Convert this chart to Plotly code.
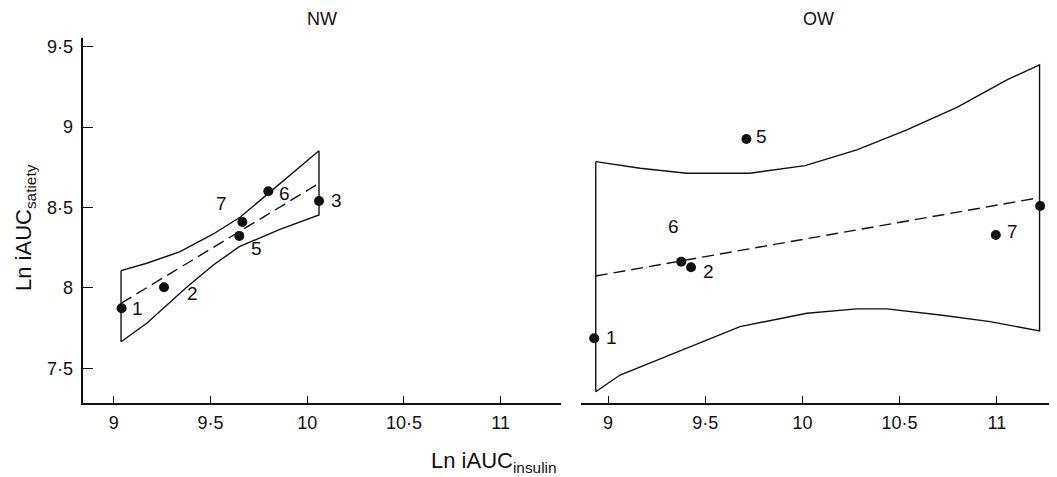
import plotly.graph_objects as go

# ---------------- data ----------------
nw_ids = ["1", "2", "5", "7", "6", "3"]
nw_x = [9.041, 9.26, 9.649, 9.665, 9.799, 10.061]
nw_y = [7.873, 8.004, 8.323, 8.410, 8.601, 8.540]

ow_ids = ["1", "6", "2", "5", "7", "4"]
ow_x = [8.929, 9.377, 9.427, 9.712, 10.995, 11.223]
ow_y = [7.687, 8.163, 8.128, 8.926, 8.329, 8.509]

# confidence band (upper / lower edges) and regression line
nw_up_x = [9.038, 9.171, 9.343, 9.515, 9.653, 9.799, 9.928, 10.061]
nw_up_y = [8.107, 8.153, 8.225, 8.335, 8.439, 8.588, 8.716, 8.853]
nw_lo_x = [9.038, 9.171, 9.377, 9.515, 9.649, 9.859, 10.061]
nw_lo_y = [7.665, 7.780, 8.004, 8.142, 8.256, 8.364, 8.453]
nw_fit_x = [9.038, 10.061]
nw_fit_y = [7.904, 8.650]

ow_up_x = [8.937, 9.165, 9.405, 9.731, 10.014, 10.280, 10.537, 10.795, 11.052, 11.220]
ow_up_y = [8.785, 8.744, 8.713, 8.713, 8.760, 8.858, 8.982, 9.123, 9.293, 9.387]
ow_lo_x = [8.937, 9.062, 9.336, 9.679, 10.023, 10.280, 10.434, 10.709, 10.966, 11.220]
ow_lo_y = [7.354, 7.458, 7.593, 7.759, 7.842, 7.869, 7.869, 7.831, 7.790, 7.732]
ow_fit_x = [8.937, 11.220]
ow_fit_y = [8.074, 8.561]

x_ticks = [9, 9.5, 10, 10.5, 11]
x_tick_text = ["9", "9·5", "10", "10·5", "11"]
y_ticks = [7.5, 8, 8.5, 9, 9.5]
y_tick_text = ["7·5", "8", "8·5", "9", "9·5"]

# label pixel offsets (style only)
nw_label_off = {"1": (16, 0), "2": (28, -6), "5": (17, -13), "7": (-21, 18), "6": (16, -2), "3": (17, 1)}
ow_label_off = {"1": (17, 1), "6": (-8, 35), "2": (17, -4), "5": (15, 2), "7": (17, 3), "4": (15, 2)}

FONT = "Liberation Sans, Arial, Helvetica, sans-serif"
BLACK = "#111111"
FS_TICK = 18
FS_LAB = 19
FS_TITLE = 18
FS_AXT = 22

# page has an 8px body margin: figure coords = page coords - 8
OFF = 8
W, H = 1057 - OFF, 477 - OFF


def fx(px):
    return (px - OFF) / W


def fy(py):
    return 1 - (py - OFF) / H


fig = go.Figure()


def band(xu, yu, xl, yl, xa, ya):
    bx = list(xu) + list(reversed(xl)) + [xu[0]]
    by = list(yu) + list(reversed(yl)) + [yu[0]]
    fig.add_trace(go.Scatter(x=bx, y=by, mode="lines", xaxis=xa, yaxis=ya,
                             line=dict(color=BLACK, width=1.4), hoverinfo="skip",
                             showlegend=False))


band(nw_up_x, nw_up_y, nw_lo_x, nw_lo_y, "x", "y")
band(ow_up_x, ow_up_y, ow_lo_x, ow_lo_y, "x2", "y2")

for lx, ly, xa, ya in [(nw_fit_x, nw_fit_y, "x", "y"), (ow_fit_x, ow_fit_y, "x2", "y2")]:
    fig.add_trace(go.Scatter(x=lx, y=ly, mode="lines", xaxis=xa, yaxis=ya,
                             line=dict(color=BLACK, width=1.4, dash="12px,6px"),
                             showlegend=False, hoverinfo="skip"))

for px_, py_, xa, ya in [(nw_x, nw_y, "x", "y"), (ow_x, ow_y, "x2", "y2")]:
    fig.add_trace(go.Scatter(x=px_, y=py_, mode="markers", xaxis=xa, yaxis=ya,
                             marker=dict(color=BLACK, size=10, symbol="circle"),
                             cliponaxis=False, showlegend=False))

annotations = []
for ids, xs, ys, offs, xr, yr in [(nw_ids, nw_x, nw_y, nw_label_off, "x", "y"),
                                  (ow_ids, ow_x, ow_y, ow_label_off, "x2", "y2")]:
    for i, xv, yv in zip(ids, xs, ys):
        dx, dy = offs[i]
        annotations.append(dict(x=xv, y=yv, xref=xr, yref=yr, text=i, showarrow=False,
                                xshift=dx, yshift=dy, xanchor="center", yanchor="middle",
                                font=dict(family=FONT, size=FS_LAB, color=BLACK)))

annotations += [
    dict(x=fx(322), y=fy(19), xref="paper", yref="paper", text="NW", showarrow=False,
         xanchor="center", yanchor="middle", font=dict(family=FONT, size=FS_TITLE, color=BLACK)),
    dict(x=fx(819), y=fy(19), xref="paper", yref="paper", text="OW", showarrow=False,
         xanchor="center", yanchor="middle", font=dict(family=FONT, size=FS_TITLE, color=BLACK)),
    dict(x=fx(559), y=fy(462), xref="paper", yref="paper", xanchor="right", yanchor="middle",
         text="Ln iAUC<sub>insulin</sub>", showarrow=False,
         font=dict(family=FONT, size=FS_AXT, color=BLACK)),
    dict(x=fx(25), y=fy(228), xref="paper", yref="paper", textangle=-90,
         xanchor="center", yanchor="middle",
         text="Ln iAUC<sub>satiety</sub>", showarrow=False,
         font=dict(family=FONT, size=FS_AXT, color=BLACK)),
]

xcommon = dict(tickvals=x_ticks, ticktext=x_tick_text,
               showline=True, linecolor=BLACK, linewidth=1.6, ticks="inside",
               ticklen=8, tickwidth=1.3, tickcolor=BLACK, showgrid=False, zeroline=False,
               tickfont=dict(family=FONT, size=FS_TICK, color=BLACK),
               ticklabelstandoff=2, fixedrange=True)
y_lo, y_hi = 7.282, 9.552
yd = [fy(403.3), fy(38.3)]

fig.update_layout(
    width=W, height=H,
    margin=dict(l=0, r=0, t=0, b=0),
    paper_bgcolor="white", plot_bgcolor="white",
    showlegend=False,
    xaxis=dict(xcommon, domain=[fx(83.3), fx(560.7)], anchor="y", range=[8.843, 11.31]),
    xaxis2=dict(xcommon, domain=[fx(580.7), 1.0], anchor="y2", range=[8.8595, 11.3097]),
    yaxis=dict(range=[y_lo, y_hi], domain=yd, anchor="x", tickvals=y_ticks, ticktext=y_tick_text,
               showline=True, linecolor=BLACK, linewidth=1.6, ticks="inside", ticklen=10,
               tickwidth=1.3, tickcolor=BLACK, showgrid=False, zeroline=False,
               tickfont=dict(family=FONT, size=FS_TICK, color=BLACK), ticklabelstandoff=5,
               fixedrange=True),
    yaxis2=dict(range=[y_lo, y_hi], domain=yd, anchor="x2", showline=False, showticklabels=False,
                ticks="", showgrid=False, zeroline=False, fixedrange=True),
    annotations=annotations,
)

fig.write_html("out.html")
